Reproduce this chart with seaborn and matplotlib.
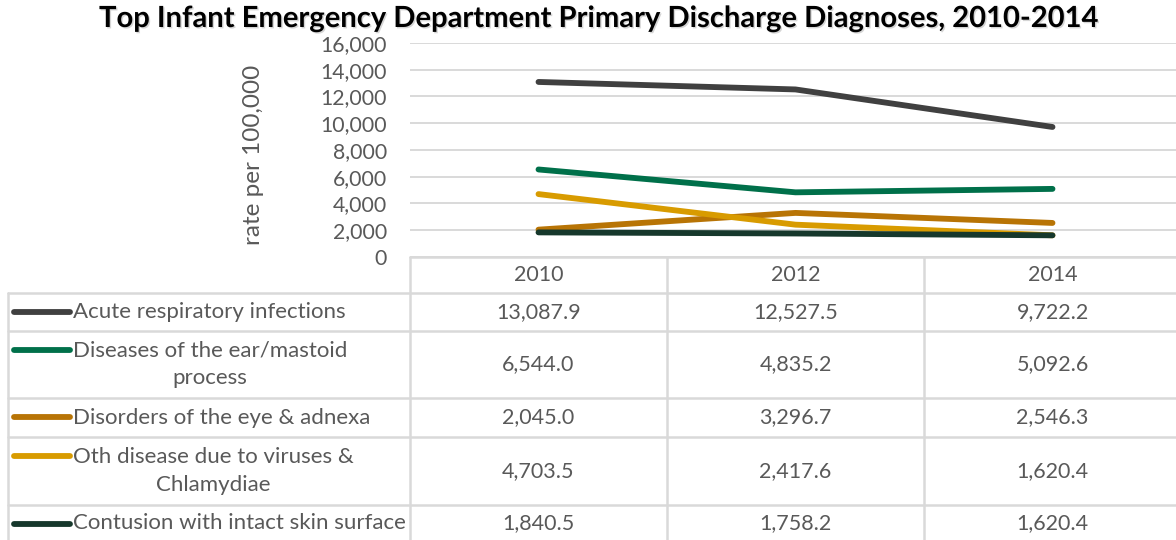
import matplotlib
matplotlib.use("Agg")
import matplotlib.pyplot as plt
import matplotlib.lines as mlines
import matplotlib.patheffects as pe
from matplotlib.transforms import blended_transform_factory
import pandas as pd
import seaborn as sns

# --- data -------------------------------------------------------------
years = ["2010", "2012", "2014"]
diagnoses = [
    "Acute respiratory infections",
    "Diseases of the ear/mastoid\nprocess",
    "Disorders of the eye & adnexa",
    "Oth disease due to viruses &\nChlamydiae",
    "Contusion with intact skin surface",
]
acute_resp = [13087.9, 12527.5, 9722.2]
ear_mastoid = [6544.0, 4835.2, 5092.6]
eye_adnexa = [2045.0, 3296.7, 2546.3]
viruses_chlamydiae = [4703.5, 2417.6, 1620.4]
contusion = [1840.5, 1758.2, 1620.4]
series = [acute_resp, ear_mastoid, eye_adnexa, viruses_chlamydiae, contusion]
colors = ["#404040", "#00704A", "#B87405", "#D89B00", "#16382C"]

df = pd.DataFrame(
    [(d, y, v) for d, vals in zip(diagnoses, series) for y, v in zip(years, vals)],
    columns=["diagnosis", "year", "rate"],
)

# --- figure ----------------------------------------------------------
W, H = 1176, 540
sns.set_theme(style="white")
plt.rcParams["font.family"] = ["Lato", "DejaVu Sans"]
TXT = "#595959"
GRID = "#D9D9D9"

fig = plt.figure(figsize=(W / 100, H / 100), dpi=100)

def fx(x):
    return x / W

def fy(y):
    return 1 - y / H

plot_top, plot_bot, plot_left = 43, 257, 410
col_w = 257
ax = fig.add_axes([fx(plot_left), fy(plot_bot), (3 * col_w) / W, (plot_bot - plot_top) / H])

sns.lineplot(
    data=df, x="year", y="rate", hue="diagnosis", hue_order=diagnoses,
    palette=colors, linewidth=4.2, legend=False, sort=False, ax=ax,
    solid_capstyle="round",
)

ax.set_xlim(-0.5, 2.5)
ax.set_ylim(0, 16000)
ax.set_yticks(range(0, 16001, 2000))
ax.set_yticklabels([f"{v:,}" for v in range(0, 16001, 2000)])
ax.tick_params(axis="y", length=0, pad=16.5, labelsize=15.3, labelcolor=TXT)
ax.set_xticks([])
ax.set_xlabel("")
ax.grid(axis="y", color=GRID, linewidth=1.4)
ax.set_axisbelow(True)
for s in ax.spines.values():
    s.set_visible(False)
ax.set_ylabel("rate per 100,000", fontsize=17.5, color=TXT)
ax.yaxis.set_label_coords((264 - plot_left) / (3 * col_w), 0.477)

fig.text(fx(598), fy(19), "Top Infant Emergency Department Primary Discharge Diagnoses, 2010-2014",
         ha="center", va="center", fontsize=21, fontweight="bold", color="black",
         path_effects=[pe.withSimplePatchShadow(offset=(1, -1), shadow_rgbFace="#888888", alpha=0.35)])

# --- data table below the plot -----------------------------------------
ftr = fig.transFigure
btr = blended_transform_factory(ax.transData, fig.transFigure)
row_edges = [293, 331, 398, 437, 505, 545]
table_left = 8

def hline(y, x0, x1):
    fig.add_artist(mlines.Line2D([fx(x0), fx(x1)], [fy(y), fy(y)], transform=ftr,
                                 color=GRID, linewidth=1.8))

# header top border (value axis baseline) and row borders
hline(plot_bot, plot_left, W + 10)
for y in row_edges[:-1]:
    hline(y, table_left, W + 10)
fig.add_artist(mlines.Line2D([fx(table_left)] * 2, [fy(row_edges[0]), fy(H + 5)], transform=ftr,
                             color=GRID, linewidth=1.8))
for i in range(len(years) + 1):
    fig.add_artist(mlines.Line2D([i - 0.5] * 2, [fy(plot_bot), fy(H + 5)], transform=btr,
                                 color=GRID, linewidth=1.8))

# column headers
for i, yr in enumerate(years):
    fig.text(i, fy((plot_bot + row_edges[0]) / 2), yr, transform=btr,
             ha="center", va="center", fontsize=15.5, color=TXT)

# rows: legend swatch, label, values
for r, (name, vals, c) in enumerate(zip(diagnoses, series, colors)):
    top, bot = row_edges[r], row_edges[r + 1]
    if r == len(diagnoses) - 1:
        bot = 541
    mid = (top + bot) / 2
    sw_y = top + 19
    fig.add_artist(mlines.Line2D([fx(14), fx(70)], [fy(sw_y), fy(sw_y)], transform=ftr,
                                 color=c, linewidth=4.2, solid_capstyle="round"))
    fig.text(fx(73), fy(mid), name, ha="left", va="center", multialignment="center",
             fontsize=16, color=TXT, linespacing=1.47)
    for i, v in enumerate(vals):
        fig.text(i, fy(mid), f"{v:,.1f}", transform=btr, ha="center", va="center",
                 fontsize=15.5, color=TXT)

fig.savefig("out.png", dpi=100)
